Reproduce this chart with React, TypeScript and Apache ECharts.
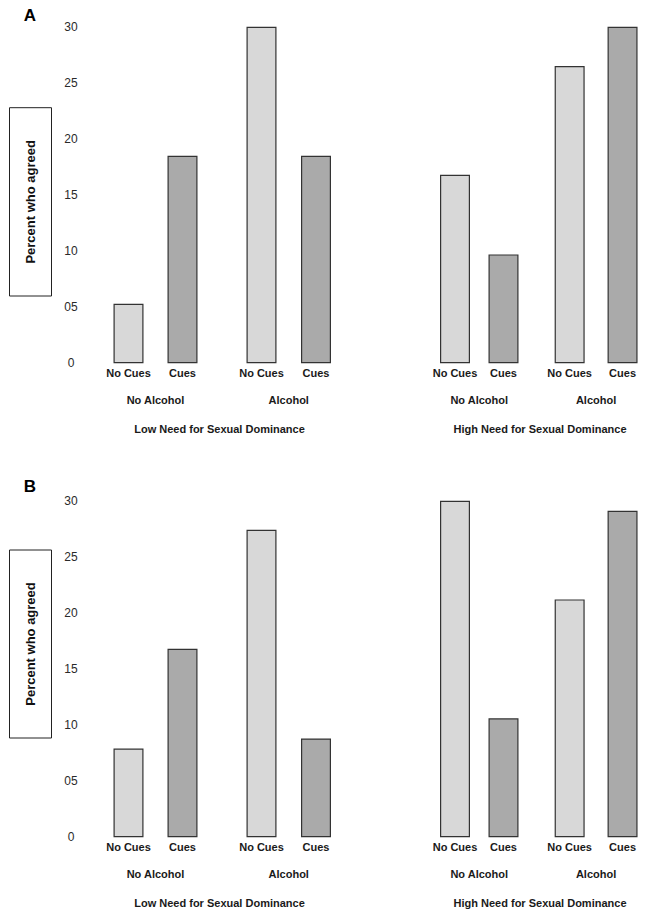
import React, { useEffect, useRef } from "react";
import * as echarts from "echarts";

const panelLetters = ["A", "B"];
const needGroups = ["Low Need for Sexual Dominance", "High Need for Sexual Dominance"];
const alcoholGroups = ["No Alcohol", "Alcohol"];
const cueCategories = ["No Cues", "Cues"];
const yTickLabels = ["0", "05", "10", "15", "20", "25", "30"];
const yAxisTitle = "Percent who agreed";
// order: Low/NoAlc/NoCues, Low/NoAlc/Cues, Low/Alc/NoCues, Low/Alc/Cues, High/NoAlc/NoCues, High/NoAlc/Cues, High/Alc/NoCues, High/Alc/Cues
const panelAValues = [5.3, 18.5, 30.0, 18.5, 16.8, 9.7, 26.5, 30.0];
const panelBValues = [7.9, 16.8, 27.4, 8.8, 30.0, 10.6, 21.2, 29.1];
const panelValues = [panelAValues, panelBValues];

const FONT = "'Liberation Sans', Arial, Helvetica, sans-serif";
const cueColors = ["#d8d8d8", "#aaaaaa"];

export default function App() {
  const ref = useRef<HTMLDivElement>(null);
  useEffect(() => {
    document.body.style.margin = "0";
    const chart = echarts.init(ref.current!, undefined, { renderer: "svg" });
    const subLefts = [101.5, 234.25, 430.75, 543.2];
    const subWidths = [108, 109, 97, 108.4];
    const panelTops = [26.7, 500.7];
    const plotH = 336.5;
    const grids: any[] = [];
    const xAxes: any[] = [];
    const yAxes: any[] = [];
    const series: any[] = [];
    const graphic: any[] = [];
    const needCenters = [219.5, 540];
    const letterY = [15, 486.7];
    const boxY = [[107.7, 296], [550, 738]];

    panelValues.forEach((vals, p) => {
      for (let g = 0; g < 4; g++) {
        const idx = p * 4 + g;
        grids.push({ left: subLefts[g], width: subWidths[g], top: panelTops[p], height: plotH });
        xAxes.push({
          type: "category",
          gridIndex: idx,
          data: cueCategories,
          axisLine: { show: false },
          axisTick: { show: false },
          axisLabel: { interval: 0, fontFamily: FONT, fontSize: 11, fontWeight: "bold", color: "#1a1a1a", margin: 4 },
          name: alcoholGroups[g % 2],
          nameLocation: "middle",
          nameGap: 31,
          nameTextStyle: { fontFamily: FONT, fontSize: 11, fontWeight: "bold", color: "#1a1a1a" },
        });
        yAxes.push({
          type: "value",
          gridIndex: idx,
          min: 0,
          max: 30,
          interval: 5,
          axisLine: { show: false },
          axisTick: { show: false },
          splitLine: { show: false },
          axisLabel: {
            show: g === 0,
            align: "center",
            margin: 30.5,
            padding: [0, 0, 6, 0],
            fontFamily: FONT,
            fontSize: 12,
            color: "#2a2a2a",
            formatter: (v: number) => yTickLabels[Math.round(v / 5)] ?? String(v),
          },
        });
        series.push({
          type: "bar",
          xAxisIndex: idx,
          yAxisIndex: idx,
          barWidth: 30,
          data: [0, 1].map((c) => ({
            value: vals[g * 2 + c],
            itemStyle: { color: cueColors[c], borderColor: "#333", borderWidth: 1.2 },
          })),
        });
      }
      needGroups.forEach((name, n) => {
        graphic.push({
          type: "text",
          x: needCenters[n],
          y: panelTops[p] + plotH + 65.5,
          style: {
            text: name,
            fontFamily: FONT,
            fontSize: 11,
            fontWeight: "bold",
            fill: "#1a1a1a",
            textAlign: "center",
            textVerticalAlign: "middle",
          },
        });
      });
      graphic.push({
        type: "text",
        x: 30,
        y: letterY[p],
        style: {
          text: panelLetters[p],
          fontFamily: FONT,
          fontSize: 17,
          fontWeight: "bold",
          fill: "#000",
          textAlign: "center",
          textVerticalAlign: "middle",
        },
      });
      graphic.push({
        type: "rect",
        shape: { x: 9.5, y: boxY[p][0], width: 42, height: boxY[p][1] - boxY[p][0] },
        style: { fill: "#fff", stroke: "#222", lineWidth: 1 },
      });
      graphic.push({
        type: "text",
        x: 30.7,
        y: (boxY[p][0] + boxY[p][1]) / 2,
        rotation: Math.PI / 2,
        style: {
          text: yAxisTitle,
          fontFamily: FONT,
          fontSize: 13,
          fontWeight: "bold",
          fill: "#111",
          textAlign: "center",
          textVerticalAlign: "middle",
        },
      });
    });

    chart.setOption({
      animation: false,
      backgroundColor: "#fff",
      grid: grids,
      xAxis: xAxes,
      yAxis: yAxes,
      series,
      graphic,
    });
    return () => chart.dispose();
  }, []);
  return <div ref={ref} style={{ width: 649, height: 919 }} />;
}
